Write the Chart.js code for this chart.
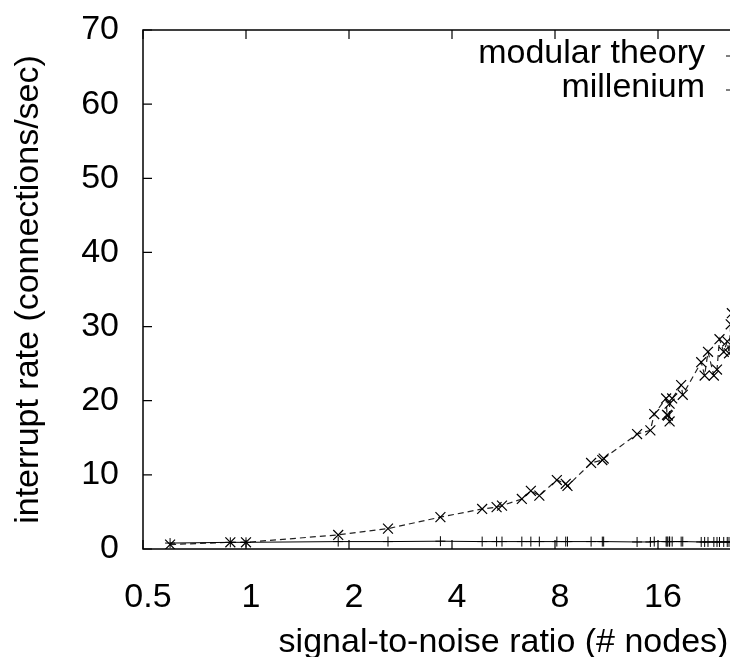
<!DOCTYPE html>
<html>
<head>
<meta charset="utf-8">
<script src="https://cdn.jsdelivr.net/npm/chart.js@4.4.1/dist/chart.umd.min.js"></script>
<style>
  html, body { margin: 0; padding: 0; background: #fff; overflow: hidden; }
  #wrap { width: 900px; height: 657px; }
</style>
</head>
<body>
<div id="wrap"><canvas id="c" width="900" height="657"></canvas></div>
<script>
// node counts (x) shared by both series
var nodes = [0.6, 0.9, 1.0, 1.86, 2.6, 3.7, 4.9, 5.4, 5.6, 6.4, 6.8, 7.2, 8.1, 8.6, 8.7,
             10.2, 11.0, 11.1, 13.9, 15.2, 15.6, 16.9, 17.0, 17.1, 17.3, 17.3, 17.6, 18.7, 18.9,
             21.4, 21.9, 22.4, 23.3, 23.8, 24.2, 24.9, 25.5, 25.8, 26.1, 26.3, 28.0];

var modular = [0.8, 0.9, 0.9, 1.0, 1.0, 1.05, 1.0, 1.0, 1.0, 1.0, 1.0, 1.0, 1.0, 1.0, 1.0,
               1.0, 1.0, 1.0, 0.95, 0.95, 1.0, 1.0, 1.0, 1.0, 1.0, 1.0, 1.0, 1.0, 1.0,
               0.95, 0.95, 0.95, 0.95, 0.95, 0.95, 0.95, 0.95, 0.95, 0.95, 0.95, 0.95];

var millenium = [0.6, 0.9, 0.9, 1.9, 2.75, 4.3, 5.4, 5.65, 5.85, 6.75, 7.85, 7.2, 9.3, 8.8, 8.5,
                 11.6, 12.0, 12.2, 15.5, 16.0, 18.2, 20.3, 18.1, 18.0, 17.2, 19.6, 20.3, 22.1, 20.8,
                 25.2, 23.4, 26.6, 23.4, 24.2, 28.3, 26.6, 28.0, 26.4, 30.3, 31.8, 33.5];

var xTicks = [0.5, 1, 2, 4, 8, 16, 32, 64];
var yTicks = [0, 10, 20, 30, 40, 50, 60, 70];
var seriesNames = ['modular theory', 'millenium'];

var FONT = 'Liberation Sans, Arial, Helvetica, sans-serif';

function pts(ys) {
    return nodes.map(function(x, i) { return { x: x, y: ys[i] }; });
}

// gnuplot-ish frame, inward ticks and key
var frame = {
    id: 'frame',
    afterDatasetsDraw: function(chart) {
        var ctx = chart.ctx, a = chart.chartArea;
        var sx = chart.scales.x, sy = chart.scales.y;
        ctx.save();
        ctx.strokeStyle = '#000';
        ctx.lineWidth = 1.5;
        ctx.strokeRect(a.left, a.top, a.right - a.left, a.bottom - a.top);
        ctx.lineWidth = 1.2;
        ctx.beginPath();
        yTicks.forEach(function(v) {
            var p = sy.getPixelForValue(v);
            ctx.moveTo(a.left, p); ctx.lineTo(a.left + 9, p);
            ctx.moveTo(a.right, p); ctx.lineTo(a.right - 9, p);
        });
        xTicks.forEach(function(v) {
            var p = sx.getPixelForValue(v);
            ctx.moveTo(p, a.bottom); ctx.lineTo(p, a.bottom - 9);
            ctx.moveTo(p, a.top); ctx.lineTo(p, a.top + 9);
        });
        ctx.stroke();

        // key
        ctx.font = '34px ' + FONT;
        ctx.fillStyle = '#000';
        ctx.textAlign = 'right';
        ctx.textBaseline = 'middle';
        var rows = [54, 88];
        chart.data.datasets.forEach(function(ds, i) {
            var y = rows[i];
            ctx.fillText(seriesNames[i], 705, y);
            ctx.setLineDash(ds.borderDash || []);
            ctx.lineWidth = 1;
            ctx.beginPath();
            ctx.moveTo(726, y + 2); ctx.lineTo(a.right - 12, y + 2);
            ctx.stroke();
        });
        ctx.restore();
    }
};

new Chart(document.getElementById('c'), {
    type: 'line',
    data: {
        datasets: [
            { label: seriesNames[0], data: pts(modular),
              borderColor: '#000', borderWidth: 1, pointStyle: 'cross', pointRadius: 5,
              pointBorderColor: '#000', pointBorderWidth: 1, pointHoverRadius: 5, tension: 0 },
            { label: seriesNames[1], data: pts(millenium),
              borderColor: '#222', borderWidth: 1.2, borderDash: [6, 4], pointStyle: 'crossRot', pointRadius: 7,
              pointBorderColor: '#000', pointBorderWidth: 1.2, pointHoverRadius: 7, tension: 0 }
        ]
    },
    options: {
        responsive: false,
        animation: false,
        layout: { padding: { top: 30, right: 36, left: 0, bottom: 0 } },
        plugins: { legend: { display: false }, tooltip: { enabled: false } },
        scales: {
            x: {
                type: 'logarithmic', min: 0.5, max: 64,
                afterBuildTicks: function(s) { s.ticks = xTicks.map(function(v) { return { value: v }; }); },
                afterFit: function(s) { s.height = 108; s.paddingLeft = 0; s.paddingRight = 0; },
                grid: { display: false, drawTicks: false },
                border: { display: false },
                ticks: { color: '#000', font: { family: FONT, size: 34 }, padding: 28, labelOffset: 5,
                         maxRotation: 0, autoSkip: false,
                         callback: function(v) { return String(v); } },
                title: { display: true, text: 'signal-to-noise ratio (# nodes)', color: '#000',
                         font: { family: FONT, size: 34 }, padding: { top: 0, bottom: -6 } }
            },
            y: {
                min: 0, max: 70,
                afterBuildTicks: function(s) { s.ticks = yTicks.map(function(v) { return { value: v }; }); },
                afterFit: function(s) { s.width = 143; s.paddingTop = 0; s.paddingBottom = 0; },
                grid: { display: false, drawTicks: false },
                border: { display: false },
                ticks: { color: '#000', font: { family: FONT, size: 34 }, padding: 24 },
                title: { display: true, text: 'interrupt rate (connections/sec)', color: '#000',
                         font: { family: FONT, size: 34 }, padding: { top: 8, bottom: 0 } }
            }
        }
    },
    plugins: [frame]
});
</script>
</body>
</html>
